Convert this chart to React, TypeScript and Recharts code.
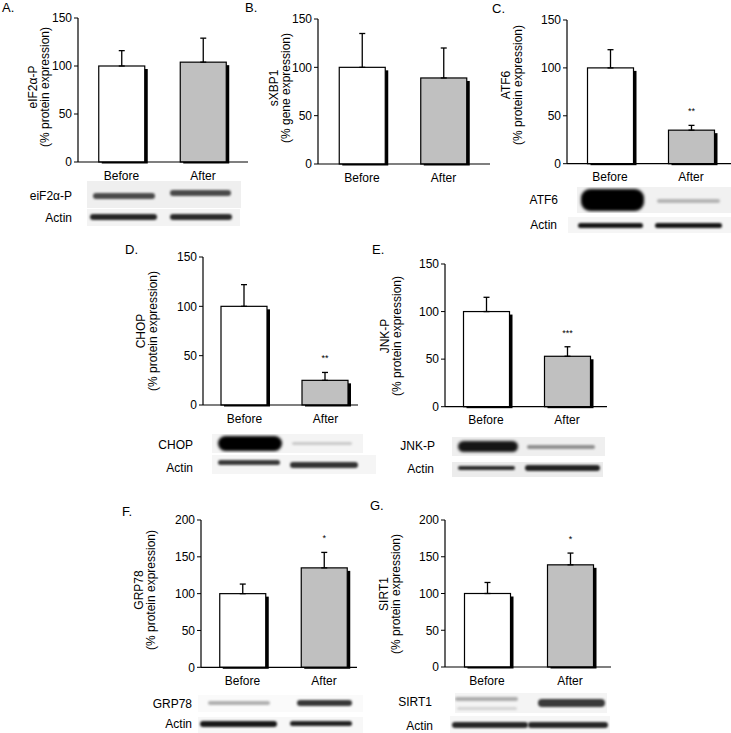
import React from "react";
import { BarChart, Bar, XAxis, YAxis, ErrorBar, Cell } from "recharts";

const FONT = '"Liberation Sans", Arial, Helvetica, sans-serif';

// x categories shared by every panel
const groups = ["Before", "After"];
const barColors = ["#ffffff", "#c0c0c0"];

// A. eIF2α-P
const eif2Mean = [100, 104];
const eif2Sem = [16, 25];
const eif2Sig = ["", ""];
// B. sXBP1
const xbp1Mean = [100, 89];
const xbp1Sem = [35, 31];
const xbp1Sig = ["", ""];
// C. ATF6
const atf6Mean = [100, 35];
const atf6Sem = [19, 5];
const atf6Sig = ["", "**"];
// D. CHOP
const chopMean = [100, 25];
const chopSem = [22, 8];
const chopSig = ["", "**"];
// E. JNK-P
const jnkMean = [100, 53];
const jnkSem = [15, 10];
const jnkSig = ["", "***"];
// F. GRP78
const grp78Mean = [100, 135];
const grp78Sem = [13, 21];
const grp78Sig = ["", "*"];
// G. SIRT1
const sirt1Mean = [100, 139];
const sirt1Sem = [15, 16];
const sirt1Sig = ["", "*"];

const ticks150 = [0, 50, 100, 150];
const ticks200 = [0, 50, 100, 150, 200];

type Panel = {
  letter: string;
  lx: number;
  ly: number;
  title: string;
  unit: string;
  labelX: number;
  labelY: number;
  mean: number[];
  sem: number[];
  sig: string[];
  ticks: number[];
  axisX: number;
  yTop: number;
  y0: number;
  xEnd: number;
  c0: number;
  c1: number;
};

const panels: Panel[] = [
  { letter: "A.", lx: 2, ly: 8, title: "eIF2α-P", unit: "(% protein expression)", labelX: 39, labelY: 87,
    mean: eif2Mean, sem: eif2Sem, sig: eif2Sig, ticks: ticks150,
    axisX: 78, yTop: 18, y0: 162, xEnd: 248, c0: 121.5, c1: 203 },
  { letter: "B.", lx: 245, ly: 8, title: "sXBP1", unit: "(% gene expression)", labelX: 280, labelY: 88,
    mean: xbp1Mean, sem: xbp1Sem, sig: xbp1Sig, ticks: ticks150,
    axisX: 318, yTop: 18.7, y0: 163.7, xEnd: 490, c0: 362, c1: 443.5 },
  { letter: "C.", lx: 492, ly: 9, title: "ATF6", unit: "(% protein expression)", labelX: 512, labelY: 85,
    mean: atf6Mean, sem: atf6Sem, sig: atf6Sig, ticks: ticks150,
    axisX: 567, yTop: 20, y0: 163.7, xEnd: 731, c0: 610, c1: 691 },
  { letter: "D.", lx: 125, ly: 250, title: "CHOP", unit: "(% protein expression)", labelX: 147, labelY: 331,
    mean: chopMean, sem: chopSem, sig: chopSig, ticks: ticks150,
    axisX: 203, yTop: 256.7, y0: 404.7, xEnd: 358, c0: 244.5, c1: 325.5 },
  { letter: "E.", lx: 372, ly: 250, title: "JNK-P", unit: "(% protein expression)", labelX: 391, labelY: 336,
    mean: jnkMean, sem: jnkSem, sig: jnkSig, ticks: ticks150,
    axisX: 445, yTop: 264, y0: 406.7, xEnd: 607, c0: 486, c1: 567 },
  { letter: "F.", lx: 122, ly: 512, title: "GRP78", unit: "(% protein expression)", labelX: 145, labelY: 590,
    mean: grp78Mean, sem: grp78Sem, sig: grp78Sig, ticks: ticks200,
    axisX: 201, yTop: 520, y0: 667.3, xEnd: 357, c0: 242.5, c1: 324 },
  { letter: "G.", lx: 370, ly: 506, title: "SIRT1", unit: "(% protein expression)", labelX: 390, labelY: 594,
    mean: sirt1Mean, sem: sirt1Sem, sig: sirt1Sig, ticks: ticks200,
    axisX: 445, yTop: 520, y0: 667, xEnd: 611, c0: 487, c1: 570 },
];

// western blot strips (pictures in the original, drawn as blurred bands)
type Band = { x: number; y: number; w: number; h: number; c: string; b?: number };
type Strip = { x: number; y: number; w: number; h: number; bg: string; bands: Band[] };
type BlotLabel = { text: string; right: number; y: number };

const strips: Strip[] = [
  // A
  { x: 87, y: 181, w: 154, h: 27, bg: "#efefef", bands: [
    { x: 93, y: 193, w: 62, h: 6, c: "#4a4a4a" }, { x: 170, y: 190, w: 61, h: 6, c: "#4a4a4a" } ] },
  { x: 87, y: 209, w: 153, h: 17, bg: "#f3f3f3", bands: [
    { x: 90, y: 214, w: 67, h: 6, c: "#262626" }, { x: 170, y: 213.5, w: 62, h: 6, c: "#2a2a2a" } ] },
  // C
  { x: 577, y: 187, w: 154, h: 26, bg: "#f1f1f1", bands: [
    { x: 581, y: 189, w: 63, h: 22, c: "#000", b: 1.8 }, { x: 657, y: 199, w: 63, h: 4, c: "#b5b5b5" } ] },
  { x: 568, y: 217, w: 163, h: 16, bg: "#f5f5f5", bands: [
    { x: 578, y: 222.5, w: 65, h: 5, c: "#151515" }, { x: 655, y: 222.5, w: 67, h: 5, c: "#151515" } ] },
  // D
  { x: 212, y: 434, w: 151, h: 19, bg: "#f4f4f4", bands: [
    { x: 218, y: 436, w: 64, h: 15, c: "#000", b: 1.6 }, { x: 292, y: 442, w: 60, h: 3, c: "#cacaca" } ] },
  { x: 212, y: 455, w: 164, h: 19, bg: "#f5f5f5", bands: [
    { x: 218, y: 460, w: 62, h: 5, c: "#3a3a3a" }, { x: 290, y: 462, w: 68, h: 6, c: "#333" } ] },
  // E
  { x: 452, y: 437, w: 153, h: 19, bg: "#efefef", bands: [
    { x: 458, y: 441, w: 60, h: 11, c: "#151515", b: 1.6 }, { x: 527, y: 445, w: 68, h: 4, c: "#909090" } ] },
  { x: 452, y: 462, w: 151, h: 15, bg: "#ececec", bands: [
    { x: 458, y: 465.5, w: 57, h: 4, c: "#2a2a2a" }, { x: 525, y: 465, w: 75, h: 6, c: "#222" } ] },
  // F
  { x: 198, y: 695, w: 165, h: 17, bg: "#fafafa", bands: [
    { x: 208, y: 701, w: 62, h: 4, c: "#b0b0b0" }, { x: 297, y: 700, w: 55, h: 6, c: "#383838" } ] },
  { x: 198, y: 717, w: 165, h: 16, bg: "#f7f7f7", bands: [
    { x: 200, y: 720.5, w: 77, h: 6, c: "#181818" }, { x: 290, y: 720.5, w: 62, h: 5, c: "#222" } ] },
  // G
  { x: 455, y: 693, w: 152, h: 20, bg: "#f4f4f4", bands: [
    { x: 455, y: 697, w: 63, h: 4, c: "#adadad" }, { x: 457, y: 707, w: 60, h: 3, c: "#d4d4d4" },
    { x: 538, y: 699, w: 67, h: 8, c: "#3a3a3a" } ] },
  { x: 450, y: 716, w: 160, h: 17, bg: "#f6f6f6", bands: [
    { x: 452, y: 721.5, w: 76, h: 6, c: "#262626" }, { x: 528, y: 721.5, w: 80, h: 6, c: "#262626" } ] },
];

const blotLabels: BlotLabel[] = [
  { text: "eiF2α-P", right: 72, y: 196 }, { text: "Actin", right: 72, y: 218 },
  { text: "ATF6", right: 558, y: 200 }, { text: "Actin", right: 557, y: 225 },
  { text: "CHOP", right: 193, y: 445 }, { text: "Actin", right: 193, y: 468 },
  { text: "JNK-P", right: 435, y: 446 }, { text: "Actin", right: 434, y: 469 },
  { text: "GRP78", right: 192, y: 704 }, { text: "Actin", right: 192, y: 724 },
  { text: "SIRT1", right: 432, y: 702 }, { text: "Actin", right: 433, y: 726 },
];

const PAD_L = 40;
const PAD_T = 10;
const X_H = 26;

const ShadowBar = (props: any) => {
  const { x, y, width, height, fill, payload } = props;
  const unit = payload.mean ? height / payload.mean : 0;
  const errTop = y - payload.err[1] * unit;
  return (
    <g>
      <rect x={x + 3} y={y + 3} width={width} height={Math.max(height - 1.5, 0)} fill="#000" />
      <rect x={x} y={y} width={width} height={height} fill={fill} stroke="#000" strokeWidth={1.2} />
      {payload.sig ? (
        <text x={x + width / 2} y={errTop - 11} textAnchor="middle" fontSize={9} fontFamily={FONT} fill="#000">
          {payload.sig}
        </text>
      ) : null}
    </g>
  );
};

function StatChart({ p }: { p: Panel }) {
  const data = groups.map((g, i) => ({ pos: i, group: g, mean: p.mean[i], err: [0, p.sem[i]], sig: p.sig[i] }));
  const plotW = p.xEnd - p.axisX;
  const band = p.c1 - p.c0;
  const d0 = (p.axisX - p.c0) / band;
  const d1 = d0 + plotW / band;
  const w = PAD_L + plotW + 2;
  const h = PAD_T + (p.y0 - p.yTop) + X_H;
  const axisStyle = { stroke: "#000", strokeWidth: 1.2 };
  const tickStyle = { fill: "#000", fontSize: 12, fontFamily: FONT };
  return (
    <div style={{ position: "absolute", left: p.axisX - PAD_L, top: p.yTop - PAD_T }}>
      <BarChart width={w} height={h} data={data} margin={{ top: PAD_T, right: 2, bottom: 0, left: 0 }}>
        <XAxis
          type="number"
          dataKey="pos"
          domain={[d0, d1]}
          allowDataOverflow
          ticks={[0, 1]}
          interval={0}
          tickFormatter={(v: number) => groups[Math.round(v)]}
          tickLine={false}
          tickSize={0}
          tickMargin={9}
          height={X_H}
          axisLine={axisStyle}
          tick={tickStyle}
        />
        <YAxis
          type="number"
          domain={[0, p.ticks[p.ticks.length - 1]]}
          ticks={p.ticks}
          interval={0}
          width={PAD_L}
          tickSize={4}
          tickMargin={2}
          axisLine={axisStyle}
          tickLine={{ stroke: "#000" }}
          tick={tickStyle}
        />
        <Bar dataKey="mean" barSize={46} isAnimationActive={false} shape={ShadowBar}>
          {data.map((d, i) => (
            <Cell key={d.group} fill={barColors[i]} />
          ))}
          <ErrorBar dataKey="err" width={3} stroke="#000" strokeWidth={1.3} isAnimationActive={false} />
        </Bar>
      </BarChart>
    </div>
  );
}

export default function App() {
  return (
    <div
      style={{
        position: "absolute",
        left: 0,
        top: 0,
        width: 731,
        height: 733,
        background: "#fff",
        overflow: "hidden",
        fontFamily: FONT,
        color: "#000",
      }}
    >
      {panels.map((p) => (
        <React.Fragment key={p.letter}>
          <div style={{ position: "absolute", left: p.lx, top: p.ly - 8, fontSize: 13, lineHeight: "16px" }}>{p.letter}</div>
          <div
            style={{
              position: "absolute",
              left: p.labelX,
              top: p.labelY,
              transform: "translate(-50%, -50%) rotate(-90deg)",
              whiteSpace: "nowrap",
              textAlign: "center",
              fontSize: 12,
              lineHeight: "11.5px",
            }}
          >
            <div>{p.title}</div>
            <div>{p.unit}</div>
          </div>
          <StatChart p={p} />
        </React.Fragment>
      ))}
      {strips.map((s, i) => (
        <div
          key={"strip" + i}
          style={{ position: "absolute", left: s.x, top: s.y, width: s.w, height: s.h, background: s.bg, overflow: "hidden" }}
        >
          {s.bands.map((b, j) => (
            <div
              key={j}
              style={{
                position: "absolute",
                left: b.x - s.x,
                top: b.y - s.y,
                width: b.w,
                height: b.h,
                background: b.c,
                borderRadius: `${Math.min(b.h / 2, 9)}px`,
                filter: `blur(${b.b ?? 1.1}px)`,
              }}
            />
          ))}
        </div>
      ))}
      {blotLabels.map((l, i) => (
        <div
          key={"bl" + i}
          style={{ position: "absolute", left: l.right - 80, width: 80, top: l.y - 8, textAlign: "right", fontSize: 12, lineHeight: "16px" }}
        >
          {l.text}
        </div>
      ))}
    </div>
  );
}
